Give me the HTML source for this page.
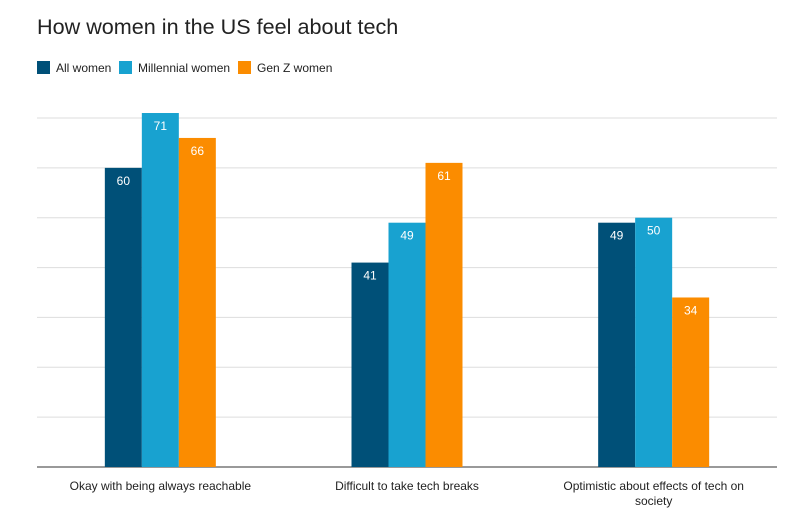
<!DOCTYPE html>
<html><head><meta charset="utf-8"><style>
body{margin:0;background:#fff;font-family:"Liberation Sans",sans-serif;}
svg{display:block}
</style></head><body>
<svg id="chart" width="799" height="516">
<text x="37" y="34" font-size="21.6" fill="#222">How women in the US feel about tech</text>
<g id="legend"></g>
<g id="grid"></g>
<g id="bars"></g>
<g id="xlabels"></g>
</svg>
<script>
const categories=[["Okay with being always reachable"],["Difficult to take tech breaks"],["Optimistic about effects of tech on","society"]];
const seriesNames=["All women","Millennial women","Gen Z women"];
const allWomen=[60,41,49];
const millennial=[71,49,50];
const genZ=[66,61,34];
const gridTicks=[0,10,20,30,40,50,60,70];
const colors=["#005078","#18a2d0","#fb8c00"];
const series=[allWomen,millennial,genZ];
const NS="http://www.w3.org/2000/svg";
const x0=37,x1=777,base=467,ppu=349/70;
const y=v=>base-v*ppu;
const groupW=(x1-x0)/categories.length,barW=37;
function mk(t,a,p){const e=document.createElementNS(NS,t);for(const k in a)e.setAttribute(k,a[k]);p.appendChild(e);return e;}
const grid=document.getElementById('grid');
gridTicks.forEach(t=>{const l=mk('line',{x1:x0,x2:x1,y1:y(t),y2:y(t),stroke:t===0?'#333':'#ddd','stroke-width':1},grid);

});
const lg=document.getElementById('legend');
const lx=[37,119,238];
seriesNames.forEach((n,i)=>{const r=mk('rect',{x:lx[i],y:61,width:13,height:13,fill:colors[i]},lg);


const t=mk('text',{x:lx[i]+19,y:72,'font-size':12,fill:'#222'},lg);t.textContent=n;

});
const bars=document.getElementById('bars');
categories.forEach((c,ci)=>{const cx=x0+groupW*(ci+0.5);
series.forEach((s,si)=>{const bx=cx-barW*1.5+si*barW;
const r=mk('rect',{x:bx,y:y(s[ci]),width:barW,height:base-y(s[ci]),fill:colors[si]},bars);


const t=mk('text',{x:bx+barW/2,y:y(s[ci])+17,'font-size':12,fill:'#fff','text-anchor':'middle'},bars);t.textContent=s[ci];

});
const xl=document.getElementById('xlabels');
c.forEach((line,li)=>{const t=mk('text',{x:cx,y:490+li*15,'font-size':12,fill:'#222','text-anchor':'middle'},xl);t.textContent=line;

});});
</script>
</body></html>
